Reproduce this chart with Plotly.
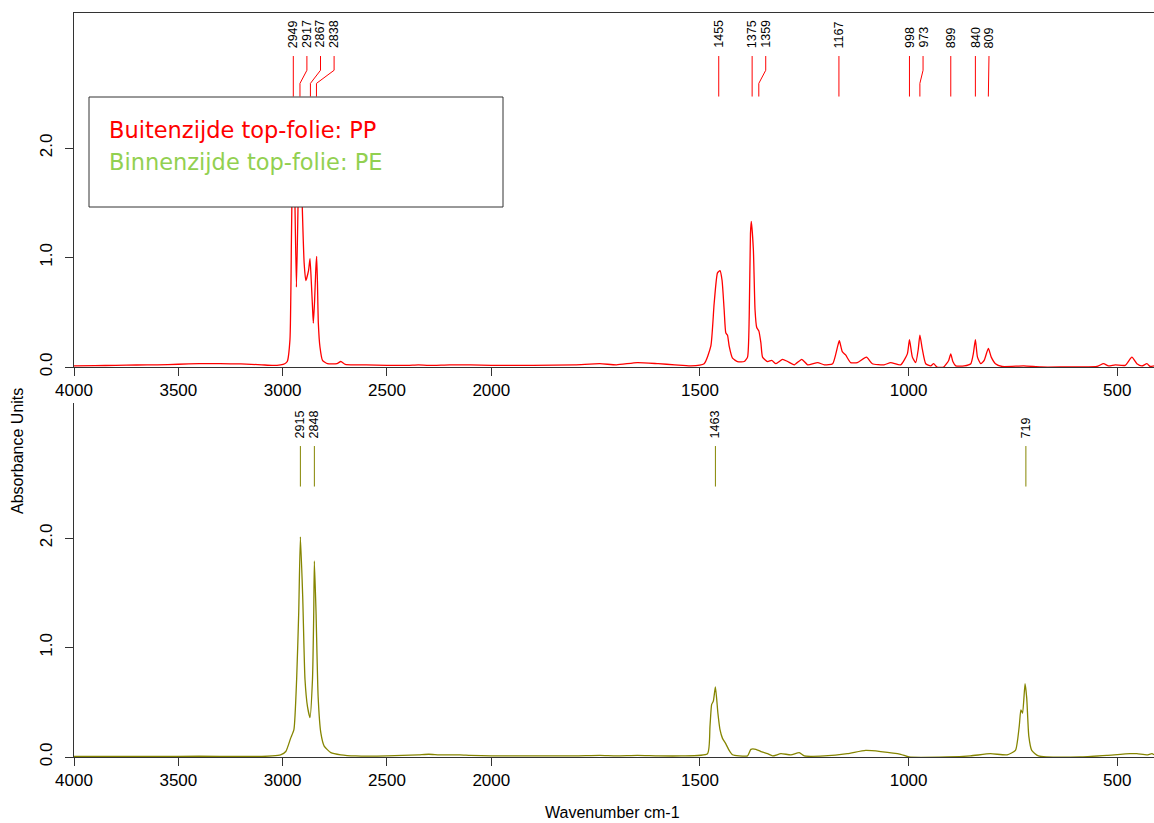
import plotly.graph_objects as go

# ---------------- data ----------------
PP_WN = [4000, 3900, 3800, 3700, 3600, 3500, 3400, 3300, 3200, 3100, 3050, 3010, 2990, 2978, 2965,
         2958, 2953, 2949, 2942, 2934, 2926, 2917, 2908, 2897, 2889, 2876, 2869, 2862, 2857, 2853,
         2847, 2841, 2837, 2833, 2829, 2821, 2809, 2785, 2740, 2721, 2700, 2650, 2600, 2500, 2400,
         2350, 2300, 2200, 2100, 2000, 1900, 1800, 1740, 1700, 1650, 1600, 1560, 1522, 1490, 1474,
         1466, 1458, 1452, 1447, 1442, 1438, 1434, 1430, 1422, 1410, 1394, 1386, 1382, 1379, 1377,
         1372, 1368, 1364, 1359, 1354, 1350, 1338, 1328, 1318, 1302, 1290, 1274, 1256, 1242, 1218,
         1202, 1182, 1170, 1166, 1159, 1151, 1139, 1123, 1101, 1087, 1059, 1043, 1019, 1003, 998,
         991, 983, 977, 973, 967, 959, 947, 940, 932, 916, 904, 899, 894, 887, 867,
         851, 845, 840, 835, 827, 819, 809, 802, 792, 776, 724, 683, 636, 549, 533,
         521, 505, 481, 465, 453, 441, 429, 421, 412]
PP_ABS = [0.010, 0.012, 0.015, 0.018, 0.020, 0.025, 0.030, 0.030, 0.028, 0.020, 0.015, 0.020, 0.030, 0.050, 0.25,
          1.16, 1.90, 2.30, 1.60, 0.73, 1.50, 2.35, 1.60, 0.95, 0.79, 0.88, 0.99, 0.75, 0.55, 0.40,
          0.60, 0.90, 1.01, 0.75, 0.40, 0.18, 0.06, 0.03, 0.03, 0.05, 0.025, 0.02, 0.02, 0.015, 0.015,
          0.02, 0.015, 0.02, 0.02, 0.015, 0.015, 0.02, 0.03, 0.02, 0.04, 0.03, 0.02, 0.01, 0.03, 0.19,
          0.58, 0.86, 0.88, 0.79, 0.52, 0.31, 0.29, 0.19, 0.08, 0.05, 0.05, 0.09, 0.46, 1.22, 1.33,
          1.07, 0.52, 0.36, 0.33, 0.22, 0.09, 0.05, 0.06, 0.03, 0.07, 0.05, 0.02, 0.07, 0.02, 0.04,
          0.02, 0.03, 0.19, 0.24, 0.14, 0.11, 0.04, 0.04, 0.09, 0.03, 0.02, 0.04, 0.02, 0.12, 0.25,
          0.09, 0.04, 0.16, 0.29, 0.16, 0.03, 0.01, 0.03, 0.00, 0.00, 0.06, 0.12, 0.05, 0.01, 0.01,
          0.03, 0.12, 0.25, 0.09, 0.03, 0.06, 0.17, 0.09, 0.03, 0.005, 0.01, 0.00, 0.00, 0.005, 0.03,
          0.01, 0.02, 0.015, 0.09, 0.03, 0.01, 0.03, 0.005, 0.01]

PE_WN = [4000, 3800, 3600, 3400, 3200, 3100, 3050, 3010, 2985, 2962, 2946, 2933, 2923, 2915, 2904,
         2893, 2881, 2869, 2857, 2851, 2848, 2840, 2830, 2817, 2801, 2769, 2721, 2650, 2500, 2350,
         2300, 2250, 2200, 2150, 2100, 2000, 1900, 1800, 1740, 1700, 1650, 1600, 1545, 1482, 1476,
         1472, 1468, 1463, 1457, 1452, 1446, 1438, 1430, 1422, 1406, 1386, 1378, 1366, 1354, 1338,
         1326, 1306, 1282, 1262, 1250, 1202, 1147, 1103, 1067, 1019, 999, 907, 852, 804, 764,
         744, 735, 731, 727, 721, 717, 712, 705, 689, 589, 525, 469, 453, 429, 417, 412]
PE_ABS = [0.005, 0.005, 0.006, 0.007, 0.005, 0.005, 0.010, 0.020, 0.050, 0.17, 0.25, 0.71, 1.32, 2.01, 1.47,
          0.71, 0.46, 0.36, 0.71, 1.32, 1.79, 1.32, 0.55, 0.22, 0.10, 0.04, 0.02, 0.01, 0.01, 0.02,
          0.025, 0.02, 0.02, 0.02, 0.015, 0.01, 0.01, 0.01, 0.015, 0.01, 0.015, 0.01, 0.01, 0.03, 0.28,
          0.48, 0.51, 0.64, 0.40, 0.25, 0.17, 0.12, 0.06, 0.02, 0.01, 0.01, 0.07, 0.07, 0.05, 0.03,
          0.01, 0.03, 0.02, 0.04, 0.01, 0.01, 0.03, 0.06, 0.05, 0.025, 0.00, 0.00, 0.01, 0.03, 0.02,
          0.06, 0.28, 0.43, 0.40, 0.67, 0.54, 0.19, 0.06, 0.01, 0.00, 0.015, 0.03, 0.03, 0.02, 0.03, 0.02]

PP_PEAKS = [2949, 2917, 2867, 2838, 1455, 1375, 1359, 1167, 998, 973, 899, 840, 809]
PE_PEAKS = [2915, 2848, 1463, 719]

X_TICKS = [4000, 3500, 3000, 2500, 2000, 1500, 1000, 500]
Y_TICKS = [0.0, 1.0, 2.0]
LEGEND_LABELS = ["Buitenzijde top-folie: PP", "Binnenzijde top-folie: PE"]
X_TITLE = "Wavenumber cm-1"
Y_TITLE = "Absorbance Units"

# ---------------- styling ----------------
W, H = 1154, 823
ML, MR, MT, MB = 74, 0, 13, 66
PP_COLOR = "#FF0000"
PE_COLOR = "#858500"
PE_TEXT = "#92D050"
AX = "#333333"
FONT = "Liberation Sans, Arial, sans-serif"
X_RANGE = [3000, 412]
Y_TOP = 3.233
DOM_TOP = [0.5242, 1.0]
DOM_BOT = [0.0, 0.4758]


def to_axis(w):
    """Split wavenumber scale: above 2000 cm-1 compressed by a factor 2."""
    return w if w <= 2000 else 2000 + (w - 2000) / 2.0


px_per_unit = (W - ML - MR) / (X_RANGE[0] - X_RANGE[1])
GAP = 13.6 / px_per_unit


def label_positions(peaks):
    out = []
    for p in peaks:
        u = to_axis(p)
        if out and out[-1] - u < GAP:
            u = out[-1] - GAP
        out.append(u)
    return out


def marker_trace(peaks, color, xa, ya):
    labs = label_positions(peaks)
    xs, ys = [], []
    for p, lu in zip(peaks, labs):
        pu = to_axis(p)
        xs += [lu, lu, pu, pu, None]
        ys += [2.84, 2.71, 2.59, 2.47, None]
    return go.Scatter(x=xs, y=ys, mode="lines", line=dict(color=color, width=1),
                      xaxis=xa, yaxis=ya, showlegend=False, hoverinfo="skip")


def marker_labels(peaks, xref, yref):
    labs = label_positions(peaks)
    return [dict(x=lu, y=2.895, xref=xref, yref=yref, text=str(p), textangle=-90,
                 xanchor="center", yanchor="bottom", showarrow=False,
                 font=dict(family=FONT, size=12.5, color="black"))
            for p, lu in zip(peaks, labs)]


fig = go.Figure()
fig.add_trace(go.Scatter(x=[to_axis(w) for w in PP_WN], y=PP_ABS, mode="lines",
                         line=dict(color=PP_COLOR, width=1.3, shape="spline", smoothing=0.5),
                         xaxis="x", yaxis="y", showlegend=False))
fig.add_trace(go.Scatter(x=[to_axis(w) for w in PE_WN], y=PE_ABS, mode="lines",
                         line=dict(color=PE_COLOR, width=1.3, shape="spline", smoothing=0.5),
                         xaxis="x2", yaxis="y2", showlegend=False))
fig.add_trace(marker_trace(PP_PEAKS, PP_COLOR, "x", "y"))
fig.add_trace(marker_trace(PE_PEAKS, PE_COLOR, "x2", "y2"))

xcommon = dict(range=X_RANGE, tickvals=[to_axis(t) for t in X_TICKS],
               ticktext=[str(t) for t in X_TICKS], ticks="outside", ticklen=8,
               tickcolor=AX, showline=True, linecolor=AX, linewidth=1,
               showgrid=False, zeroline=False,
               tickfont=dict(family=FONT, size=17, color="black"))
ycommon = dict(range=[0, Y_TOP], tickvals=Y_TICKS, ticktext=[f"{v:.1f}" for v in Y_TICKS],
               ticks="outside", ticklen=8, tickcolor=AX, showline=True, linecolor=AX,
               linewidth=1, showgrid=False, zeroline=False, tickangle=-90,
               ticklabelstandoff=6,
               tickfont=dict(family=FONT, size=17, color="black"))

fig.update_layout(
    width=W, height=H,
    margin=dict(l=ML, r=MR, t=MT, b=MB),
    paper_bgcolor="white", plot_bgcolor="white",
    xaxis=dict(**xcommon, anchor="y", domain=[0, 1], mirror=True),
    yaxis=dict(**ycommon, anchor="x", domain=DOM_TOP),
    xaxis2=dict(**xcommon, anchor="y2", domain=[0, 1]),
    yaxis2=dict(**ycommon, anchor="x2", domain=DOM_BOT),
    showlegend=False,
)

# legend box (drawn over the curves)
fig.add_shape(type="rect", xref="paper", yref="paper",
              x0=(89 - ML) / (W - ML - MR), x1=(503 - ML) / (W - ML - MR),
              y0=(H - MB - 207) / (H - MT - MB), y1=(H - MB - 97) / (H - MT - MB),
              fillcolor="white", line=dict(color=AX, width=1), layer="above")

annotations = []
for i, (txt, col) in enumerate(zip(LEGEND_LABELS, [PP_COLOR, PE_TEXT])):
    annotations.append(dict(x=(107 - ML) / (W - ML - MR), y=(H - MB - (130 + 32 * i)) / (H - MT - MB),
                            xref="paper", yref="paper", text=txt, showarrow=False,
                            xanchor="left", yanchor="middle",
                            font=dict(family="DejaVu Sans, Verdana, sans-serif", size=22.5, color=col)))
annotations += marker_labels(PP_PEAKS, "x", "y")
annotations += marker_labels(PE_PEAKS, "x2", "y2")
annotations.append(dict(x=(612 - ML) / (W - ML - MR), y=(H - MB - 812) / (H - MT - MB),
                        xref="paper", yref="paper", text=X_TITLE, showarrow=False,
                        xanchor="center", yanchor="middle",
                        font=dict(family=FONT, size=16, color="black")))
annotations.append(dict(x=(18 - ML) / (W - ML - MR), y=(H - MB - 451) / (H - MT - MB),
                        xref="paper", yref="paper", text=Y_TITLE, showarrow=False,
                        textangle=-90, xanchor="center", yanchor="middle",
                        font=dict(family=FONT, size=16, color="black")))
fig.update_layout(annotations=annotations)

fig.write_html("out.html", config={"displayModeBar": False},
               post_script="document.body.style.margin='0px';")
